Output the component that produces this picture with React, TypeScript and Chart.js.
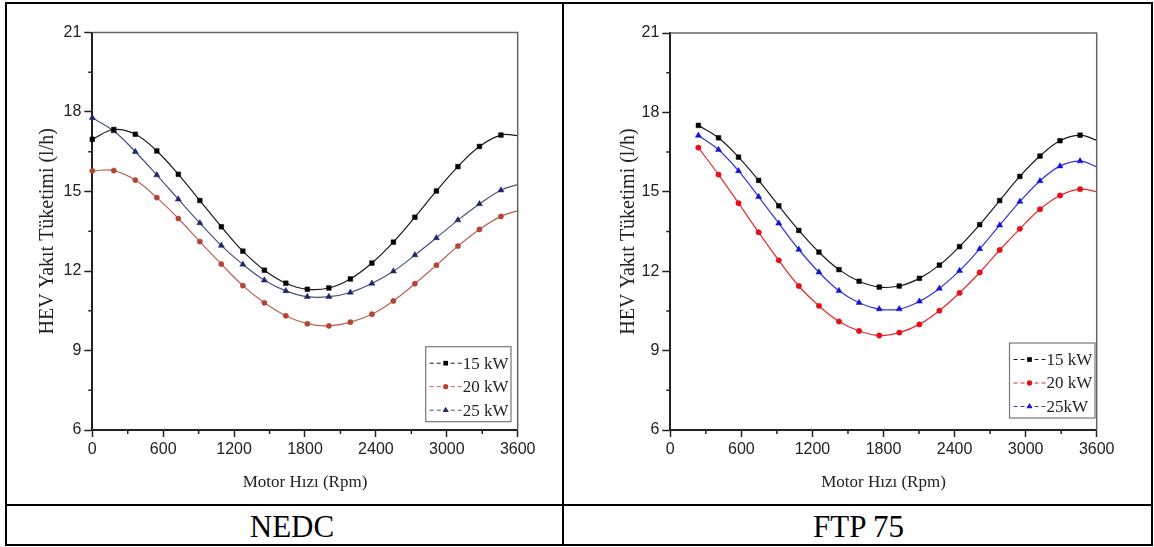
import React, { useEffect, useRef } from 'react';
import { Chart, registerables } from 'chart.js';

Chart.register(...registerables);

// ---------- data ----------
const nedcRpm = [0, 182, 364, 546, 728, 910, 1092, 1274, 1456, 1638, 1820, 2002, 2184, 2366, 2548, 2730, 2912, 3094, 3276, 3458, 3600];
const nedc15 = [16.97, 17.34, 17.16, 16.53, 15.65, 14.66, 13.67, 12.75, 12.03, 11.54, 11.31, 11.36, 11.70, 12.30, 13.09, 14.03, 15.02, 15.94, 16.70, 17.13, 17.11];
const nedc20 = [15.78, 15.79, 15.43, 14.77, 13.98, 13.11, 12.26, 11.45, 10.80, 10.31, 10.01, 9.93, 10.07, 10.37, 10.87, 11.52, 12.22, 12.94, 13.57, 14.06, 14.27];
const nedc25 = [17.78, 17.28, 16.50, 15.62, 14.71, 13.81, 12.96, 12.25, 11.65, 11.25, 11.03, 11.03, 11.19, 11.53, 11.99, 12.60, 13.25, 13.92, 14.53, 15.05, 15.26];

const ftpRpm = [237, 407, 576, 746, 916, 1085, 1255, 1424, 1594, 1764, 1933, 2103, 2272, 2442, 2612, 2781, 2951, 3121, 3290, 3460, 3600];
const ftp15 = [17.51, 17.04, 16.31, 15.43, 14.47, 13.54, 12.72, 12.06, 11.62, 11.40, 11.44, 11.73, 12.23, 12.93, 13.76, 14.67, 15.58, 16.35, 16.93, 17.14, 16.95];
const ftp20 = [16.67, 15.65, 14.57, 13.47, 12.41, 11.44, 10.69, 10.10, 9.74, 9.57, 9.68, 9.99, 10.51, 11.18, 11.95, 12.80, 13.60, 14.34, 14.86, 15.10, 15.00];
const ftp25 = [17.13, 16.59, 15.79, 14.81, 13.81, 12.82, 11.96, 11.26, 10.81, 10.57, 10.57, 10.86, 11.35, 12.02, 12.84, 13.74, 14.63, 15.41, 15.97, 16.16, 15.94];

const nedcLabels = ['15 kW', '20 kW', '25 kW'];
const ftpLabels = ['15 kW', '20 kW', '25kW'];

const xTicks = [0, 600, 1200, 1800, 2400, 3000, 3600];
const xMinorTicks = [300, 900, 1500, 2100, 2700, 3300];
const yTicks = [6, 9, 12, 15, 18, 21];
const yMinorTicks = [7.5, 10.5, 13.5, 16.5, 19.5];

const xTitle = 'Motor Hızı (Rpm)';
const yTitle = 'HEV Yakıt Tüketimi (l/h)';
const captions = ['NEDC', 'FTP 75'];

// ---------- styles ----------
const SERIF = "'Liberation Serif', 'Times New Roman', serif";
const TICKFONT = "'Liberation Sans Narrow', 'Arial Narrow', 'Liberation Sans', Arial, sans-serif";
const INK = '#222';

type SeriesStyle = { line: string; marker: string; style: 'rect' | 'circle' | 'triangle'; radius: number };

const nedcStyles: SeriesStyle[] = [
  { line: '#1a1a1a', marker: '#000000', style: 'rect', radius: 3.3 },
  { line: '#c0604f', marker: '#b04535', style: 'circle', radius: 2.6 },
  { line: '#46527c', marker: '#1c2668', style: 'triangle', radius: 3.5 },
];
const ftpStyles: SeriesStyle[] = [
  { line: '#1a1a1a', marker: '#000000', style: 'rect', radius: 3.3 },
  { line: '#e8282e', marker: '#e3101a', style: 'circle', radius: 2.7 },
  { line: '#3434e0', marker: '#1212d4', style: 'triangle', radius: 3.5 },
];

function drawMarker(ctx: CanvasRenderingContext2D, style: string, x: number, y: number, r: number, color: string) {
  ctx.save();
  ctx.fillStyle = color;
  ctx.beginPath();
  if (style === 'rect') {
    const s = Math.SQRT1_2 * r;
    ctx.rect(x - s, y - s, 2 * s, 2 * s);
  } else if (style === 'circle') {
    ctx.arc(x, y, r, 0, Math.PI * 2);
  } else {
    const a = -Math.PI / 2;
    ctx.moveTo(x + Math.cos(a) * r, y + Math.sin(a) * r);
    ctx.lineTo(x + Math.cos(a + (2 * Math.PI) / 3) * r, y + Math.sin(a + (2 * Math.PI) / 3) * r);
    ctx.lineTo(x + Math.cos(a + (4 * Math.PI) / 3) * r, y + Math.sin(a + (4 * Math.PI) / 3) * r);
    ctx.closePath();
  }
  ctx.fill();
  ctx.restore();
}

const framePlugin = {
  id: 'frameMinor',
  afterDraw(chart: any) {
    const { ctx, chartArea } = chart;
    const { left, right, top, bottom } = chartArea;
    ctx.save();
    ctx.strokeStyle = '#666';
    ctx.lineWidth = 1.5;
    ctx.beginPath();
    ctx.moveTo(left, top);
    ctx.lineTo(right, top);
    ctx.lineTo(right, bottom);
    ctx.stroke();
    ctx.strokeStyle = INK;
    ctx.lineWidth = 1.5;
    ctx.beginPath();
    yMinorTicks.forEach((v) => {
      const py = chart.scales.y.getPixelForValue(v);
      ctx.moveTo(left - 4, py);
      ctx.lineTo(left, py);
    });
    xMinorTicks.forEach((v) => {
      const px = chart.scales.x.getPixelForValue(v);
      ctx.moveTo(px, bottom);
      ctx.lineTo(px, bottom + 4);
    });
    ctx.stroke();
    ctx.restore();
  },
};

const legendPlugin = {
  id: 'boxLegend',
  afterDraw(chart: any, _args: any, opts: any) {
    const { ctx, chartArea } = chart;
    const bx = chartArea.right - opts.rightGap - opts.width;
    const by = chartArea.bottom - opts.bottomGap - opts.height;
    ctx.save();
    ctx.fillStyle = '#fff';
    ctx.fillRect(bx, by, opts.width, opts.height);
    ctx.strokeStyle = '#777';
    ctx.lineWidth = 1.2;
    ctx.strokeRect(bx, by, opts.width, opts.height);
    chart.data.datasets.forEach((ds: any, i: number) => {
      const cy = by + 16.5 + i * 23.5;
      ctx.strokeStyle = ds.borderColor;
      ctx.lineWidth = 1;
      ctx.setLineDash([4, 3]);
      ctx.beginPath();
      ctx.moveTo(bx + 4, cy);
      ctx.lineTo(bx + 36, cy);
      ctx.stroke();
      ctx.setLineDash([]);
      drawMarker(ctx, ds.pointStyle, bx + 20, cy, ds.legendRadius, ds.pointBackgroundColor);
      ctx.fillStyle = INK;
      ctx.font = `17px ${SERIF}`;
      ctx.textBaseline = 'middle';
      ctx.textAlign = 'left';
      ctx.fillText(ds.label, bx + 37, cy + 1);
    });
    ctx.restore();
  },
};

type PanelProps = {
  rpm: number[];
  values: number[][];
  labels: string[];
  styles: SeriesStyle[];
  left: number;
  width: number;
  height: number;
  pad: { left: number; right: number; top: number; bottom: number };
  yAxisWidth: number;
  xAxisHeight: number;
  yTitlePad: number;
  legend: { rightGap: number; bottomGap: number; width: number; height: number };
};

function Panel(p: PanelProps) {
  const ref = useRef<HTMLCanvasElement>(null);
  useEffect(() => {
    const last = p.rpm.length - 1;
    const chart = new Chart(ref.current as HTMLCanvasElement, {
      type: 'line',
      data: {
        datasets: p.values.map((vals, k) => ({
          label: p.labels[k],
          data: p.rpm.map((x, i) => ({ x, y: vals[i] })),
          borderColor: p.styles[k].line,
          borderWidth: 1.2,
          tension: 0.4,
          fill: false,
          clip: false,
          pointStyle: p.styles[k].style,
          pointRadius: (c: any) => (c.dataIndex === last ? 0 : p.styles[k].radius),
          pointBackgroundColor: p.styles[k].marker,
          pointBorderColor: p.styles[k].marker,
          pointBorderWidth: 0.5,
          legendRadius: p.styles[k].radius,
        })) as any,
      },
      options: {
        animation: false,
        responsive: false,
        events: [],
        layout: { padding: p.pad },
        plugins: {
          legend: { display: false },
          tooltip: { enabled: false },
          boxLegend: p.legend,
        } as any,
        scales: {
          x: {
            type: 'linear',
            min: 0,
            max: 3600,
            afterBuildTicks: (s: any) => {
              s.ticks = xTicks.map((v) => ({ value: v }));
            },
            afterFit: (s: any) => {
              s.height = p.xAxisHeight;
            },
            grid: { display: true, drawOnChartArea: false, drawTicks: true, tickLength: 7, tickWidth: 1.5, tickColor: INK },
            border: { display: true, color: INK, width: 2 },
            ticks: {
              padding: 3,
              color: INK,
              font: { family: TICKFONT, size: 16 },
              maxRotation: 0,
              autoSkip: false,
              callback: (v: any) => String(v),
            },
            title: {
              display: true,
              text: xTitle,
              color: INK,
              font: { family: SERIF, size: 17 },
              padding: { top: 0, bottom: 10 },
            },
          },
          y: {
            type: 'linear',
            min: 6,
            max: 21,
            afterBuildTicks: (s: any) => {
              s.ticks = yTicks.map((v) => ({ value: v }));
            },
            afterFit: (s: any) => {
              s.width = p.yAxisWidth;
            },
            grid: { display: true, drawOnChartArea: false, drawTicks: true, tickLength: 8, tickWidth: 1.5, tickColor: INK },
            border: { display: true, color: INK, width: 2 },
            ticks: {
              padding: 3,
              color: INK,
              font: { family: TICKFONT, size: 16 },
              autoSkip: false,
              callback: (v: any) => String(v),
            },
            title: {
              display: true,
              text: yTitle,
              color: INK,
              font: { family: SERIF, size: 20 },
              padding: { top: p.yTitlePad, bottom: 0 },
            },
          },
        },
      } as any,
      plugins: [framePlugin, legendPlugin],
    });
    return () => chart.destroy();
  }, []);
  return (
    <canvas
      ref={ref}
      width={p.width}
      height={p.height}
      style={{ position: 'absolute', left: p.left, top: 0, width: p.width, height: p.height }}
    />
  );
}

const line = (style: React.CSSProperties): React.CSSProperties => ({ position: 'absolute', background: '#000', ...style });

export default function App() {
  return (
    <div style={{ position: 'fixed', left: 0, top: 0, width: 1154, height: 547, background: '#fff', overflow: 'hidden' }}>
      <Panel
        rpm={nedcRpm}
        values={[nedc15, nedc20, nedc25]}
        labels={nedcLabels}
        styles={nedcStyles}
        left={0}
        width={563}
        height={503}
        pad={{ left: 0, right: 45.3, top: 32.5, bottom: 0 }}
        yAxisWidth={92.3}
        xAxisHeight={73}
        yTitlePad={36}
        legend={{ rightGap: 6.7, bottomGap: 8.3, width: 85.3, height: 75 }}
      />
      <Panel
        rpm={ftpRpm}
        values={[ftp15, ftp20, ftp25]}
        labels={ftpLabels}
        styles={ftpStyles}
        left={563}
        width={591}
        height={503}
        pad={{ left: 0, right: 57.3, top: 33, bottom: 0 }}
        yAxisWidth={107.3}
        xAxisHeight={73}
        yTitlePad={53.5}
        legend={{ rightGap: 1.7, bottomGap: 12, width: 85.5, height: 75 }}
      />
      {/* table borders */}
      <div style={line({ left: 5, top: 2, width: 1148, height: 2 })} />
      <div style={line({ left: 5, top: 504, width: 1148, height: 2 })} />
      <div style={line({ left: 5, top: 544, width: 1148, height: 2 })} />
      <div style={line({ left: 5, top: 2, width: 2, height: 544 })} />
      <div style={line({ left: 562, top: 2, width: 2, height: 544 })} />
      <div style={line({ left: 1151, top: 2, width: 2, height: 544 })} />
      {/* captions */}
      <div
        style={{ position: 'absolute', left: 142, top: 511, width: 300, textAlign: 'center', fontFamily: SERIF, fontSize: 31, lineHeight: '31px', color: '#000' }}
      >
        {captions[0]}
      </div>
      <div
        style={{ position: 'absolute', left: 708.5, top: 511, width: 300, textAlign: 'center', fontFamily: SERIF, fontSize: 31, lineHeight: '31px', color: '#000' }}
      >
        {captions[1]}
      </div>
    </div>
  );
}
